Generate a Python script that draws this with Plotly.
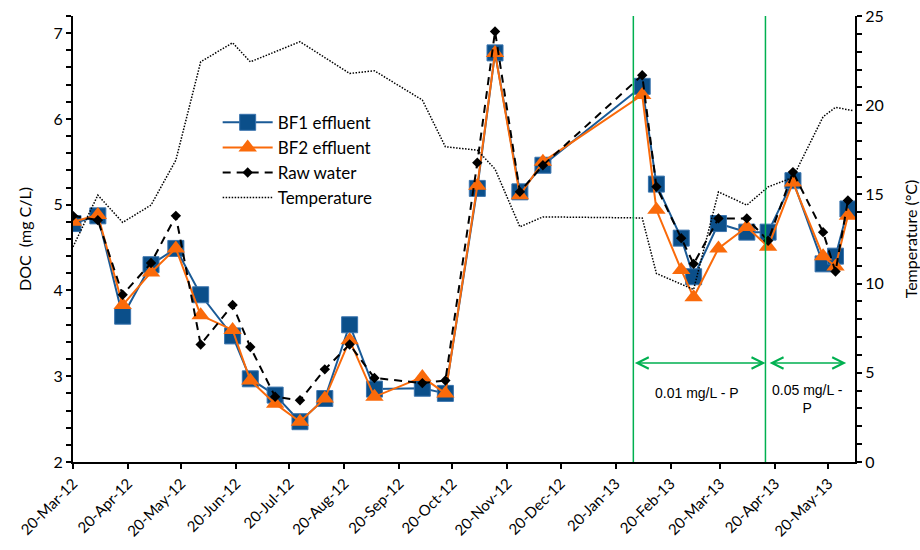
import plotly.graph_objects as go

# ---- data ----
dates = ["2012-03-20", "2012-04-03", "2012-04-17", "2012-05-03", "2012-05-17", "2012-05-31",
         "2012-06-18", "2012-06-28", "2012-07-12", "2012-07-26", "2012-08-09", "2012-08-23",
         "2012-09-06", "2012-10-03", "2012-10-16", "2012-11-03", "2012-11-13", "2012-11-27",
         "2012-12-10", "2013-02-04", "2013-02-12", "2013-02-26", "2013-03-05", "2013-03-19",
         "2013-04-04", "2013-04-16", "2013-04-30", "2013-05-17", "2013-05-24", "2013-05-31"]
bf1 = [4.78, 4.87, 3.70, 4.30, 4.49, 3.95, 3.47, 2.97, 2.78, 2.47, 2.74, 3.60, 2.85, 2.86, 2.80,
       5.19, 6.77, 5.15, 5.46, 6.38, 5.24, 4.61, 4.16, 4.78, 4.68, 4.68, 5.28, 4.31, 4.40, 4.95]
bf2 = [4.80, 4.88, 3.83, 4.21, 4.49, 3.71, 3.54, 2.95, 2.68, 2.47, 2.74, 3.42, 2.76, 2.99, 2.80,
       5.22, 6.77, 5.11, 5.50, 6.28, 4.94, 4.24, 3.92, 4.49, 4.74, 4.51, 5.26, 4.40, 4.28, 4.87]
raw = [4.87, 4.82, 3.95, 4.32, 4.87, 3.37, 3.83, 3.34, 2.76, 2.72, 3.08, 3.37, 2.98, 2.92, 2.95,
       5.49, 7.02, 5.15, 5.46, 6.51, 5.21, 4.61, 4.31, 4.84, 4.84, 4.58, 5.38, 4.68, 4.22, 5.05]

temp_dates = ["2012-03-20", "2012-04-03", "2012-04-17", "2012-05-03", "2012-05-17", "2012-05-31",
              "2012-06-18", "2012-06-28", "2012-07-26", "2012-08-23", "2012-09-06", "2012-10-03",
              "2012-10-16", "2012-11-03", "2012-11-13", "2012-11-27", "2012-12-10", "2013-02-04",
              "2013-02-12", "2013-03-05", "2013-03-19", "2013-04-04", "2013-04-16", "2013-04-30",
              "2013-05-17", "2013-05-24", "2013-06-03"]
temp = [12.06, 14.96, 13.43, 14.40, 16.92, 22.43, 23.50, 22.43, 23.56, 21.78, 21.93, 20.29,
        17.67, 17.48, 16.42, 13.18, 13.74, 13.68, 10.57, 9.67, 15.14, 14.40, 15.42, 15.95,
        19.35, 19.88, 19.69]

phase_bounds = ["2013-01-30", "2013-04-14 12:00"]
phase_arrows = [("2013-01-30", "2013-04-14 12:00"), ("2013-04-16", "2013-05-30")]
phase_labels = ["0.01 mg/L - P", "0.05 mg/L -<br>P"]
phase_label_x = ["2013-03-07", "2013-05-08"]
arrow_y = 3.155
label_y = [2.80, 2.73]

BLUE = "#0B4F8A"
ORANGE = "#FA6A0A"
GREEN = "#00B050"
FONT = "Lato"

fig = go.Figure()
fig.add_trace(go.Scatter(x=dates, y=bf1, name="BF1 effluent", mode="lines+markers",
                         line=dict(color="#1A5A96", width=2),
                         marker=dict(symbol="square", size=16, color=BLUE,
                                     line=dict(color="#3A74AE", width=1))))
fig.add_trace(go.Scatter(x=dates, y=bf2, name="BF2 effluent", mode="lines+markers",
                         line=dict(color=ORANGE, width=2),
                         marker=dict(symbol="triangle-up", size=16, color=ORANGE)))
fig.add_trace(go.Scatter(x=dates, y=raw, name="Raw water", mode="lines+markers",
                         line=dict(color="black", width=2, dash="8px,6px"),
                         marker=dict(symbol="diamond", size=8, color="black")))
fig.add_trace(go.Scatter(x=temp_dates, y=temp, name="Temperature", mode="lines", yaxis="y2",
                         line=dict(color="black", width=1.5, dash="1.5px,1.5px")))

for xb in phase_bounds:
    fig.add_shape(type="line", xref="x", yref="paper", x0=xb, x1=xb, y0=0, y1=1,
                  line=dict(color=GREEN, width=1.5))

for (a0, a1) in phase_arrows:
    fig.add_annotation(x=a1, y=arrow_y, ax=a0, ay=arrow_y, xref="x", yref="y",
                       axref="x", ayref="y", text="", showarrow=True,
                       arrowhead=5, startarrowhead=5, arrowside="end+start",
                       arrowsize=1.5, startarrowsize=1.5, arrowwidth=1.5,
                       arrowcolor=GREEN, standoff=0, startstandoff=0)

fig.add_annotation(x=phase_label_x[0], y=label_y[0], xref="x", yref="y", text=phase_labels[0],
                   showarrow=False, font=dict(family="Liberation Sans", size=14, color="black"))
fig.add_annotation(x=phase_label_x[1], y=label_y[1], xref="x", yref="y", text=phase_labels[1],
                   showarrow=False, font=dict(family="Liberation Sans", size=14, color="black"))

axis_common = dict(showline=True, linecolor="black", linewidth=2, showgrid=False,
                   zeroline=False, ticks="outside", tickcolor="black", tickwidth=2, ticklen=5,
                   automargin=False)

fig.update_layout(
    width=920, height=550,
    margin=dict(l=73, r=65, t=16, b=88),
    paper_bgcolor="white", plot_bgcolor="white",
    font=dict(family=FONT, size=16, color="black"),
    showlegend=True,
    legend=dict(x=0.185, y=0.801, xanchor="left", yanchor="top",
                bgcolor="rgba(0,0,0,0)", font=dict(family=FONT, size=17),
                itemwidth=50, tracegroupgap=0),
    xaxis=dict(type="date", range=["2012-03-20", "2013-06-04"],
               tick0="2012-03-20", dtick="M1", tickformat="%d-%b-%y", tickangle=-45,
               tickfont=dict(size=15), **axis_common),
    yaxis=dict(range=[2, 7.2], tick0=2, dtick=1,
               title=dict(text="DOC\u00a0\u00a0(mg C/L)", font=dict(size=16), standoff=18),
               minor=dict(dtick=0.2, ticks="outside", ticklen=5, tickwidth=2, tickcolor="black"),
               tickfont=dict(size=16), **axis_common),
    yaxis2=dict(range=[0, 25], dtick=5, overlaying="y", side="right",
                title=dict(text="Temperature (°C)", font=dict(size=16), standoff=23),
                minor=dict(dtick=1, ticks="outside", ticklen=5, tickwidth=2, tickcolor="black"),
                tickfont=dict(size=16), **axis_common),
)

fig.write_html("out.html")
